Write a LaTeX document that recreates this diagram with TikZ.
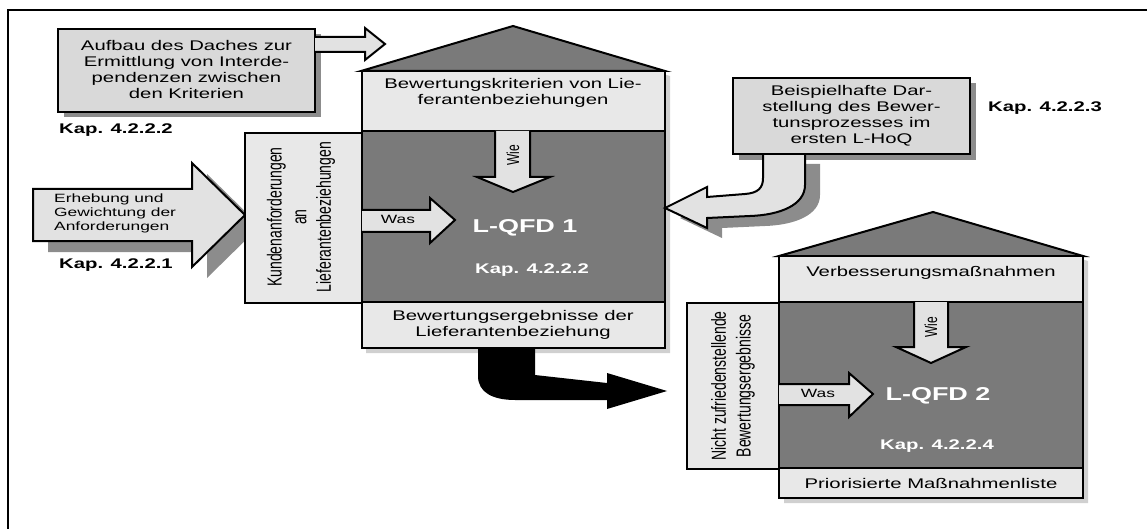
\documentclass[tikz,border=0pt]{standalone}
\usepackage{fontspec}
\setmainfont{Liberation Sans}[FakeStretch=1.45]
\newfontfamily\rotfont{Liberation Sans}[FakeStretch=0.69]
\definecolor{darkfill}{HTML}{7A7A7A}
\definecolor{panelfill}{HTML}{E8E8E8}
\definecolor{boxfill}{HTML}{D9D9D9}
\definecolor{arrowfill}{HTML}{E2E2E2}
\definecolor{shadefill}{HTML}{8C8C8C}
\definecolor{softshade}{HTML}{D0D0D0}
\begin{document}
\begin{tikzpicture}[x=1pt,y=-1pt,
  outline/.style={draw=black, line width=2pt, line join=miter},
  panel/.style={outline, fill=panelfill},
  darkpanel/.style={outline, fill=darkfill},
  notebox/.style={outline, fill=boxfill},
  blockarrow/.style={outline, fill=arrowfill},
  shade/.style={fill=shadefill},
  txt/.style={inner sep=0pt, font=\fontsize{14}{16}\selectfont, align=center},
  smalltxt/.style={inner sep=0pt, font=\fontsize{12}{14}\selectfont, align=left},
  kap/.style={inner sep=0pt, font=\bfseries\fontsize{14}{16}\selectfont},
  rottxt/.style={inner sep=0pt, rotate=90, align=center,
    font=\rotfont\fontsize{20.3}{24.6}\selectfont},
  rotsmall/.style={inner sep=0pt, rotate=90,
    font=\rotfont\fontsize{17.4}{20}\selectfont},
  whitetxt/.style={inner sep=0pt, text=white, font=\bfseries\fontsize{14}{16}\selectfont},
  titletxt/.style={inner sep=0pt, text=white, font=\bfseries\fontsize{18.6}{20}\selectfont}]
\useasboundingbox (0,0) rectangle (1147,529);

% frame (top and left edges)
\draw[line width=2pt] (8,529) -- (8,10) -- (1147,10);

% ---------- shadows ----------
\fill[shade] (64,34) rectangle (321,117);
\fill[shade] (739,83) rectangle (976,160);
% shadow of the input arrow
\fill[shade] (48,200) -- (207,200) -- (207,174) -- (260,226) -- (207,278) -- (207,252) -- (48,252) -- cycle;
% shadow of the curved feedback arrow
\fill[shade] (820,164) -- (820,195) .. controls (820,215) and (795,225) .. (765,226)
  -- (722,228) -- (722,238) -- (680,218) -- (722,197) -- (722,207) -- (760,204)
  .. controls (773,203) and (778,198) .. (778,188) -- (778,164) -- cycle;
% soft shadows of the two houses
\fill[softshade] (366,76) -- (518,31) -- (670,76) -- (670,353) -- (366,353) -- cycle;
\fill[softshade] (784,261) -- (938,217) -- (1088,261) -- (1088,503) -- (784,503) -- cycle;

% ---------- note box: roof construction ----------
\draw[notebox] (58,29) rectangle (315,112);
\node[txt] (roofnote) at (186.5,69) {Aufbau des Daches zur\\Ermittlung von Interde-\\pendenzen zwischen\\den Kriterien};
\draw[blockarrow] (315,37) -- (365,37) -- (365,28) -- (385,44) -- (365,60) -- (365,52) -- (315,52);
\node[kap, anchor=west] (kapA) at (59,130) {Kap. 4.2.2.2};

% ---------- input arrow ----------
\draw[blockarrow] (33,189) -- (192,189) -- (192,163) -- (245,215) -- (192,267) -- (192,241) -- (33,241) -- cycle;
\node[smalltxt, anchor=west] (inputtxt) at (54,213) {Erhebung und\\Gewichtung der\\Anforderungen};
\node[kap, anchor=west] (kapB) at (59,265) {Kap. 4.2.2.1};

% ---------- house 1 ----------
\draw[darkpanel] (361,71) -- (513,26) -- (665,71) -- cycle;
\draw[panel] (362,71) rectangle (665,131);
\node[txt] (crit1) at (513,93) {Bewertungskriterien von Lie-\\ferantenbeziehungen};
\draw[darkpanel] (362,131) rectangle (665,302);
\draw[panel] (362,302) rectangle (665,348);
\node[txt] (result1) at (513,325) {Bewertungsergebnisse der\\Lieferantenbeziehung};
\draw[panel] (245,133) rectangle (362,303);
\node[rottxt] (req1) at (301,217) {Kundenanforderungen\\an\\Lieferantenbeziehungen};
\draw[blockarrow] (495,131) -- (495,177) -- (477,177) -- (513,192) -- (550,177) -- (530,177) -- (530,131);
\node[rotsmall] (wie1) at (513,155) {Wie};
\draw[blockarrow] (362,210) -- (430,210) -- (430,198) -- (455,220) -- (430,243) -- (430,232) -- (362,232);
\node[smalltxt] (was1) at (398,219) {Was};
\node[titletxt] (qfd1) at (525,228) {L-QFD 1};
\node[whitetxt] (kapC) at (532,270) {Kap. 4.2.2.2};

% ---------- example note with curved arrow ----------
\draw[blockarrow] (805,154) -- (805,185) .. controls (805,205) and (780,215) .. (750,216)
  -- (707,218) -- (707,228) -- (665,208) -- (707,187) -- (707,197) -- (745,194)
  .. controls (758,193) and (763,188) .. (763,178) -- (763,154);
\draw[notebox] (733,78) rectangle (970,154);
\node[txt] (example) at (851.5,116) {Beispielhafte Dar-\\stellung des Bewer-\\tunsprozesses im\\ersten L-HoQ};
\node[kap, anchor=west] (kapD) at (988,108) {Kap. 4.2.2.3};

% ---------- black transfer arrow ----------
\fill[black] (478,348) -- (478,376) .. controls (478,392) and (492,400) .. (515,400)
  -- (607,400) -- (607,409) -- (667,391) -- (607,373) -- (607,383) -- (535,375)
  -- (535,348) -- cycle;

% ---------- house 2 ----------
\draw[darkpanel] (779,256) -- (933,212) -- (1083,256) -- cycle;
\draw[panel] (779,256) rectangle (1083,302);
\node[txt] (crit2) at (931,273) {Verbesserungsmaßnahmen};
\draw[darkpanel] (779,302) rectangle (1083,468);
\draw[panel] (779,468) rectangle (1083,498);
\node[txt] (result2) at (931,483) {Priorisierte Maßnahmenliste};
\draw[panel] (687,303) rectangle (779,469);
\node[rottxt] (req2) at (733,386) {Nicht zufriedenstellende\\Bewertungsergebnisse};
\draw[blockarrow] (914,302) -- (914,347) -- (896,347) -- (931,363) -- (966,347) -- (948,347) -- (948,302);
\node[rotsmall] (wie2) at (931,327) {Wie};
\draw[blockarrow] (779,384) -- (849,384) -- (849,373) -- (873,394) -- (849,417) -- (849,405) -- (779,405);
\node[smalltxt] (was2) at (818,393) {Was};
\node[titletxt] (qfd2) at (938,396) {L-QFD 2};
\node[whitetxt] (kapE) at (937,446) {Kap. 4.2.2.4};
\end{tikzpicture}
\end{document}
